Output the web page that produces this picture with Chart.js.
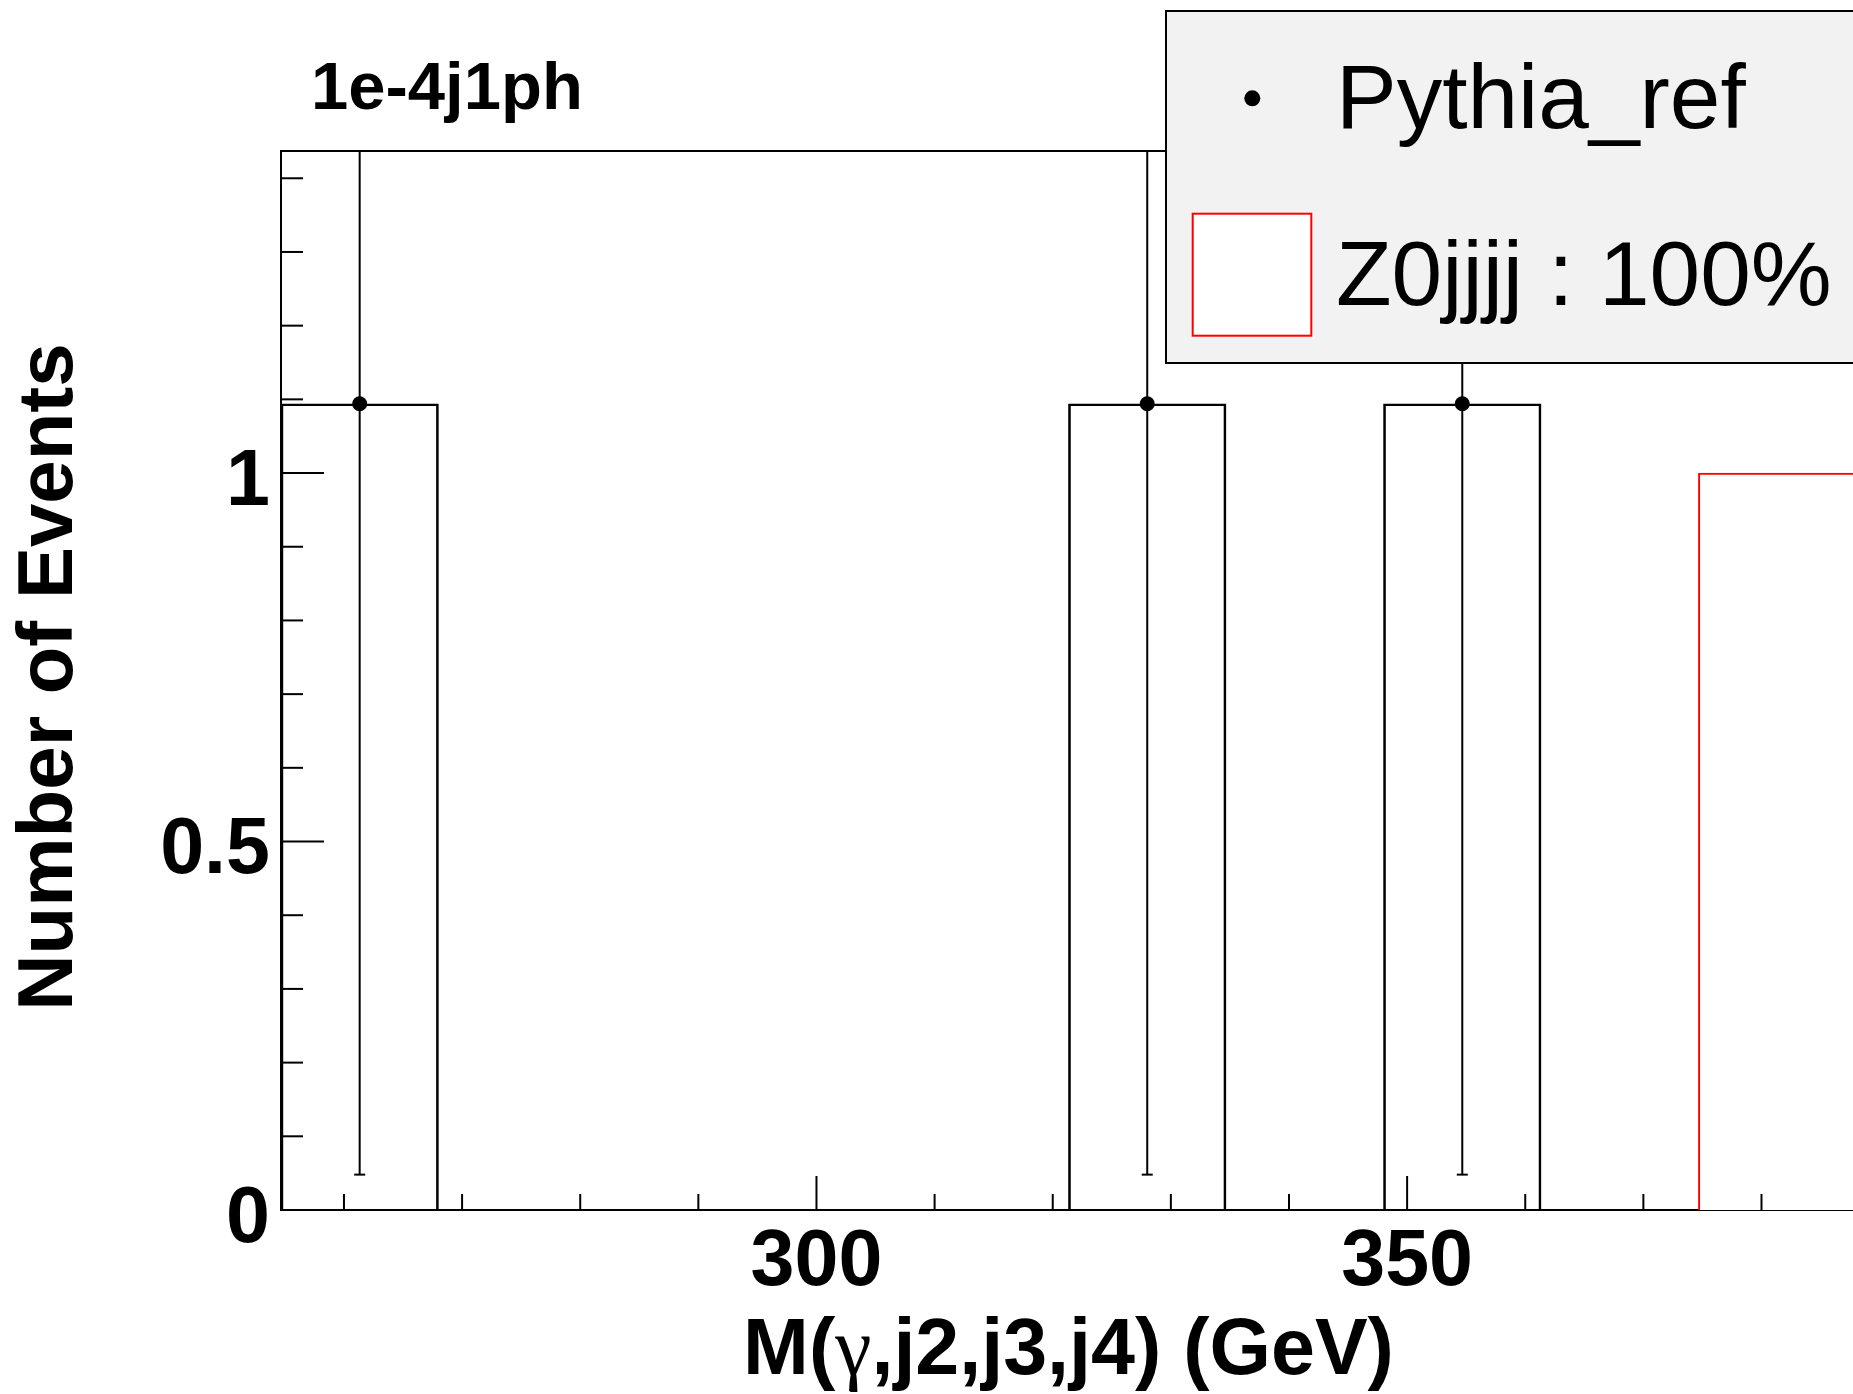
<!DOCTYPE html>
<html><head><meta charset="utf-8">
<script src="https://cdn.jsdelivr.net/npm/chart.js@4.4.1/dist/chart.umd.min.js"></script>
<style>
html,body{margin:0;padding:0;background:#fff;overflow:hidden;width:1853px;height:1394px}
canvas{display:block}
</style></head><body>
<canvas id="c" width="1900" height="1394" style="width:1900px;height:1394px"></canvas>
<script>
// ---- data ----
const binCenters   = [261.33, 274.67, 288.0, 301.33, 314.67, 328.0, 341.33, 354.67, 368.0, 381.33];
const pythiaHist   = [1.094, 0, 0, 0, 0, 1.094, 0, 1.094, 0, 0];
const z0jjjjHist   = [0, 0, 0, 0, 0, 0, 0, 0, 0, 1.0];
const pythiaPointX = [261.33, 328.0, 354.67];
const pythiaPointY = [1.094, 1.094, 1.094];
const pythiaErrLow = [1.046, 1.046, 1.046];
const pythiaErrHigh= [1.046, 1.046, 1.046];
const xTickLabels  = ['300', '350'];
const yTickLabels  = ['0', '0.5', '1'];
const xRange = [254.67, 388.0];
const yRange = [0, 1.437];
const legendLabels = ['Pythia_ref', 'Z0jjjj : 100%'];
const plotTitle = '1e-4j1ph';
const xTitleParts = ['M(', 'γ', ',j2,j3,j4) (GeV)'];
const yTitle = 'Number of Events';

const SANS = '"Liberation Sans", Arial, Helvetica, sans-serif';
const SERIF = '"Liberation Serif", "Times New Roman", serif';

const isMult = (v, m) => Math.abs(v / m - Math.round(v / m)) < 1e-6;

const rootPlugin = {
  id: 'rootStyle',
  beforeDatasetsDraw(chart) {
    const {ctx, chartArea: a, scales: {x, y}} = chart;
    ctx.save();
    ctx.beginPath(); ctx.rect(a.left, a.top, a.right - a.left, a.bottom - a.top); ctx.clip();
    ctx.strokeStyle = '#000'; ctx.lineWidth = 2;
    pythiaPointX.forEach((xv, i) => {
      const px = x.getPixelForValue(xv);
      const lo = y.getPixelForValue(pythiaPointY[i] - pythiaErrLow[i]);
      const hi = y.getPixelForValue(pythiaPointY[i] + pythiaErrHigh[i]);
      ctx.beginPath(); ctx.moveTo(px, lo); ctx.lineTo(px, hi); ctx.stroke();
      ctx.beginPath(); ctx.moveTo(px - 5.5, lo); ctx.lineTo(px + 5.5, lo); ctx.stroke();
      ctx.beginPath(); ctx.moveTo(px - 5.5, hi); ctx.lineTo(px + 5.5, hi); ctx.stroke();
    });
    ctx.restore();
  },
  afterDatasetsDraw(chart) {
    const {ctx, chartArea: a, scales: {x, y}} = chart;
    ctx.save();
    ctx.strokeStyle = '#000'; ctx.lineWidth = 2;
    x.ticks.forEach(t => {
      const v = t.value;
      if (!isMult(v, 10)) return;
      const px = x.getPixelForValue(v);
      const len = isMult(v, 50) ? 34 : 16;
      ctx.beginPath(); ctx.moveTo(px, a.bottom); ctx.lineTo(px, a.bottom - len); ctx.stroke();
    });
    y.ticks.forEach(t => {
      const v = t.value;
      if (!isMult(v, 0.1)) return;
      const py = y.getPixelForValue(v);
      const len = isMult(v, 0.5) ? 43 : 22;
      ctx.beginPath(); ctx.moveTo(a.left, py); ctx.lineTo(a.left + len, py); ctx.stroke();
    });
    // frame top
    ctx.beginPath(); ctx.moveTo(a.left, a.top); ctx.lineTo(a.right, a.top); ctx.stroke();
    ctx.restore();
  },
  afterDraw(chart) {
    const {ctx, chartArea: a} = chart;
    ctx.save();
    ctx.fillStyle = '#000';
    ctx.textBaseline = 'alphabetic';
    // plot title
    ctx.font = 'bold 67px ' + SANS;
    ctx.textAlign = 'left';
    ctx.fillText(plotTitle, 311, 109);
    // x title (mixed fonts)
    const fonts = ['bold 79px ' + SANS, '82px ' + SERIF, 'bold 79px ' + SANS];
    let total = 0;
    const widths = xTitleParts.map((s, i) => { ctx.font = fonts[i]; const w = ctx.measureText(s).width; total += w; return w; });
    let cx = (a.left + a.right) / 2 - total / 2;
    xTitleParts.forEach((s, i) => { ctx.font = fonts[i]; ctx.fillText(s, cx, 1374); cx += widths[i]; });
    // y title
    ctx.save();
    ctx.translate(72, 677);
    ctx.rotate(-Math.PI / 2);
    ctx.font = 'bold 78px ' + SANS;
    ctx.textAlign = 'center';
    ctx.fillText(yTitle, 0, 0);
    ctx.restore();
    // legend
    ctx.fillStyle = '#f2f2f2';
    ctx.fillRect(1166, 11, 800, 352);
    ctx.strokeStyle = '#000'; ctx.lineWidth = 2;
    ctx.strokeRect(1166, 11, 800, 352);
    ctx.fillStyle = '#000';
    ctx.beginPath(); ctx.arc(1252.3, 98.3, 8, 0, Math.PI * 2); ctx.fill();
    ctx.fillStyle = '#fff';
    ctx.fillRect(1192.7, 213.7, 118.6, 122);
    ctx.strokeStyle = '#ff0000';
    ctx.strokeRect(1192.7, 213.7, 118.6, 122);
    ctx.fillStyle = '#000';
    ctx.font = '91px ' + SANS;
    ctx.textAlign = 'left';
    ctx.fillText(legendLabels[0], 1336, 128);
    ctx.fillText(legendLabels[1], 1336, 305);
    ctx.restore();
  }
};

const chart = new Chart(document.getElementById('c'), {
  type: 'bar',
  data: {
    datasets: [
      {
        type: 'line', label: legendLabels[0], showLine: false,
        data: pythiaPointX.map((xv, i) => ({x: xv, y: pythiaPointY[i]})),
        pointRadius: 7.5, pointBackgroundColor: '#000', pointBorderWidth: 0, borderColor: '#000'
      },
      {
        label: 'pythia hist',
        data: binCenters.map((xv, i) => ({x: xv, y: pythiaHist[i]})),
        backgroundColor: 'rgba(0,0,0,0)', borderColor: '#000', borderWidth: 2,
        borderSkipped: 'bottom', barPercentage: 1, categoryPercentage: 1, grouped: false
      },
      {
        label: legendLabels[1],
        data: binCenters.map((xv, i) => ({x: xv, y: z0jjjjHist[i]})),
        backgroundColor: '#fff', borderColor: '#ff0000', borderWidth: 2,
        borderSkipped: 'bottom', barPercentage: 1, categoryPercentage: 1, grouped: false
      }
    ]
  },
  options: {
    responsive: false, animation: false, devicePixelRatio: 1,
    layout: {padding: {left: 0, top: 151, right: 44, bottom: 0}},
    plugins: {legend: {display: false}, tooltip: {enabled: false}, title: {display: false}},
    scales: {
      x: {
        type: 'linear', min: xRange[0], max: xRange[1], offset: false,
        grid: {display: false, drawTicks: false, offset: false},
        border: {display: true, color: '#000', width: 2},
        ticks: {
          stepSize: 10, includeBounds: false, autoSkip: false, maxRotation: 0, minRotation: 0, padding: 6,
          color: '#000', font: {family: SANS, size: 79, weight: 'bold'},
          callback: v => { const s = String(Math.round(v)); return (isMult(v, 1) && xTickLabels.includes(s)) ? s : ''; }
        },
        afterFit: s => { s.height = 184; }
      },
      y: {
        type: 'linear', min: yRange[0], max: yRange[1],
        grid: {display: false, drawTicks: false},
        border: {display: true, color: '#000', width: 2},
        ticks: {
          stepSize: 0.1, includeBounds: false, autoSkip: false, padding: 11, labelOffset: 10,
          color: '#000', font: {family: SANS, size: 79, weight: 'bold'},
          callback: v => { const s = String(Math.round(v * 10) / 10); return (isMult(v, 0.1) && yTickLabels.includes(s)) ? s : ''; }
        },
        afterFit: s => { s.width = 281; }
      }
    }
  },
  plugins: [rootPlugin]
});

// bar width = one bin width, measured through the x scale
const xs = chart.scales.x;
const binPx = Math.abs(xs.getPixelForValue(binCenters[1]) - xs.getPixelForValue(binCenters[0]));
chart.data.datasets[1].barThickness = binPx;
chart.data.datasets[2].barThickness = binPx;
chart.update('none');
</script>
</body></html>
